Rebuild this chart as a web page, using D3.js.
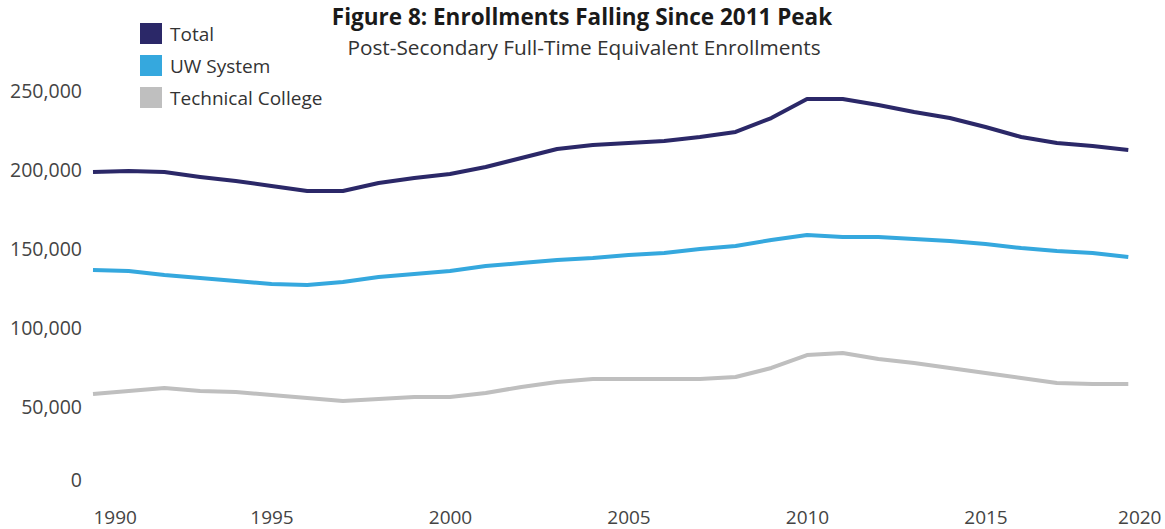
<!DOCTYPE html>
<html>
<head>
<meta charset="utf-8">
<script src="https://cdn.jsdelivr.net/npm/d3@7"></script>
<style>
  html, body { margin: 0; padding: 0; background: #fff; }
  svg { display: block; }
  text { font-family: "Open Sans", "Noto Sans", sans-serif; }
</style>
</head>
<body>
<svg id="chart" width="1165" height="529"></svg>
<script>
const years = d3.range(1990, 2020);
const totalValues = [198700, 199400, 198700, 195600, 193000, 189900, 186700, 186700, 191800, 194900,
                     197500, 201900, 207600, 213300, 215800, 217100, 218400, 220900, 224100, 232900,
                     244900, 244900, 241100, 236700, 232900, 227200, 220900, 217100, 215200, 212700];
const uwValues = [136700, 136100, 133500, 131600, 129700, 127800, 127200, 129100, 132300, 134200,
                  136100, 139200, 141100, 143000, 144300, 146200, 147500, 150000, 151900, 155700,
                  158900, 157600, 157600, 156300, 155100, 153200, 150600, 148700, 147500, 144900];
const techValues = [58200, 60100, 62000, 60100, 59500, 57600, 55700, 53800, 55100, 56300,
                    56300, 58900, 62700, 65800, 67700, 67700, 67700, 67700, 69000, 74700,
                    82900, 84200, 80400, 77800, 74700, 71500, 68400, 65200, 64600, 64600];
const seriesNames = ["Total", "UW System", "Technical College"];
const seriesColors = ["#2b2868", "#35a8de", "#bfbfbf"];
const yTicks = [0, 50000, 100000, 150000, 200000, 250000];
const xTicks = [1990, 1995, 2000, 2005, 2010, 2015, 2020];
const titleText = "Figure 8: Enrollments Falling Since 2011 Peak";
const subtitleText = "Post-Secondary Full-Time Equivalent Enrollments";

const svg = d3.select("#chart");

const x = d3.scaleLinear().domain([1990, 2020]).range([93, 1164]);
const y = d3.scaleLinear().domain([0, 250000]).range([486, 91]);

// Title
svg.append("text").attr("x", 582).attr("y", 25)
  .attr("text-anchor", "middle").attr("font-size", 22.5).attr("font-weight", 700)
  .attr("fill", "#1a1a1a").text(titleText);
svg.append("text").attr("x", 584).attr("y", 54.5)
  .attr("text-anchor", "middle").attr("font-size", 20.8)
  .attr("fill", "#333").text(subtitleText);

// Y axis
const yAxis = d3.axisLeft(y).tickValues(yTicks).tickSize(0).tickPadding(0)
  .tickFormat(d3.format(","));
const gy = svg.append("g").attr("transform", "translate(82,0)").call(yAxis);
gy.select(".domain").remove();
gy.selectAll("text").attr("font-size", 19.5).attr("fill", "#444")
  .attr("font-family", "\"Open Sans\", sans-serif");
// bottom label kept inside the pane, as in the reference
gy.selectAll(".tick").filter(d => d === 0).select("text").attr("y", -6);

// X axis
const xAxis = d3.axisBottom(x).tickValues(xTicks).tickSize(0).tickPadding(0)
  .tickFormat(d3.format("d"));
const gx = svg.append("g").attr("transform", "translate(0,510)").call(xAxis);
gx.select(".domain").remove();
gx.selectAll("text").attr("font-size", 19).attr("fill", "#444")
  .attr("font-family", "\"Open Sans\", sans-serif")
  .attr("text-anchor", d => d === 1990 ? "start" : (d === 2020 ? "end" : "middle"))
  .attr("dx", d => d === 2020 ? -3 : 0);

// Lines
const allSeries = [totalValues, uwValues, techValues];
const line = d3.line().x((d, i) => x(years[i])).y(d => y(d));
[2, 1, 0].forEach(k => {
  svg.append("path").datum(allSeries[k])
    .attr("d", line)
    .attr("fill", "none")
    .attr("stroke", seriesColors[k])
    .attr("stroke-width", 4)
    .attr("stroke-linejoin", "round")
    .attr("stroke-linecap", "butt");
});

// Legend
const legend = svg.append("g");
seriesNames.forEach((name, i) => {
  const gy0 = 23 + i * 32;
  legend.append("rect").attr("x", 140).attr("y", gy0).attr("width", 22).attr("height", 21)
    .attr("fill", seriesColors[i]);
  legend.append("text").attr("x", 170).attr("y", gy0 + 18)
    .attr("font-size", 19).attr("fill", "#333").text(name);
});
</script>
</body>
</html>
